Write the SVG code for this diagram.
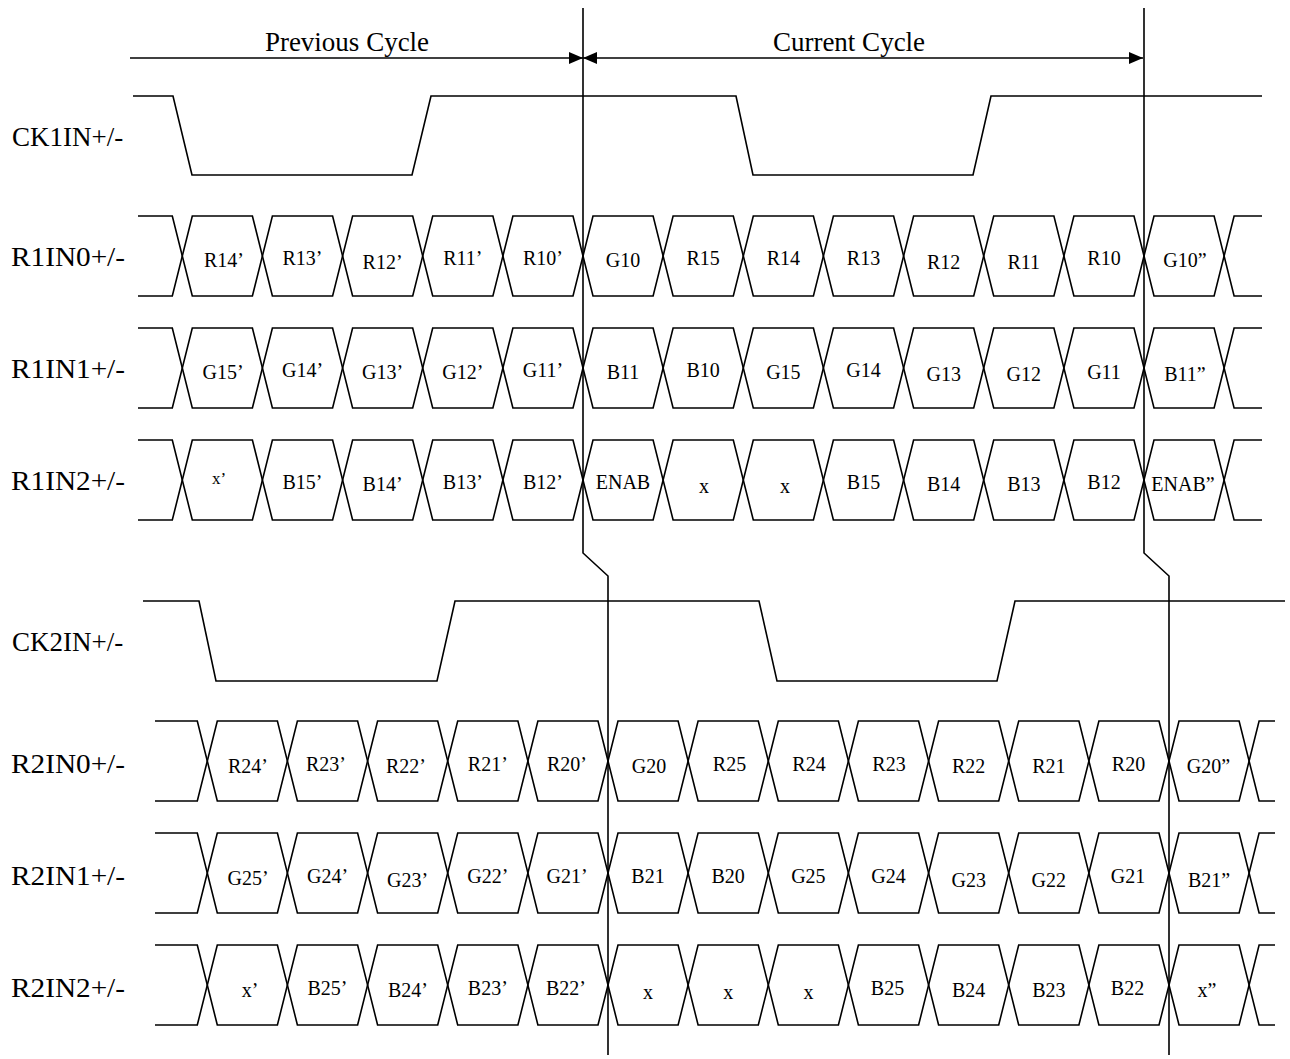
<svg xmlns="http://www.w3.org/2000/svg" xmlns:xlink="http://www.w3.org/1999/xlink" width="1290" height="1059" viewBox="0 0 1290 1059">
<style>
.w{fill:none;stroke:#000;stroke-width:1.6;stroke-linejoin:miter}
.lbl{font-family:"Liberation Serif","Times New Roman",serif;font-size:27px;fill:#000}
.rl{font-family:"Liberation Serif","Times New Roman",serif;font-size:28px;fill:#000}
.hd{font-family:"Liberation Serif","Times New Roman",serif;font-size:27px;fill:#000;text-anchor:middle}
.d{font-family:"Liberation Serif","Times New Roman",serif;font-size:20px;fill:#000;text-anchor:middle}
</style>
<defs>
<marker id="ah" markerUnits="userSpaceOnUse" markerWidth="14" markerHeight="12" refX="14" refY="6" orient="auto-start-reverse">
<path d="M0,0 L14,6 L0,12 Z" fill="#000"/>
</marker>
<g id="bus1">
<polyline class="w" points="138,0 172.3,0 192.3,80 252.4,80 272.4,0 332.6,0 352.6,80 412.7,80 432.7,0 492.9,0 512.9,80 573,80 593,0 653.1,0 673.1,80 733.3,80 753.3,0 813.4,0 833.4,80 893.6,80 913.6,0 973.7,0 993.7,80 1053.9,80 1073.9,0 1134,0 1154,80 1214.1,80 1234.1,0 1262,0"/>
<polyline class="w" points="138,80 172.3,80 192.3,0 252.4,0 272.4,80 332.6,80 352.6,0 412.7,0 432.7,80 492.9,80 512.9,0 573,0 593,80 653.1,80 673.1,0 733.3,0 753.3,80 813.4,80 833.4,0 893.6,0 913.6,80 973.7,80 993.7,0 1053.9,0 1073.9,80 1134,80 1154,0 1214.1,0 1234.1,80 1262,80"/>
</g>
<g id="bus2">
<polyline class="w" points="155,0 197.3,0 217.3,80 277.4,80 297.4,0 357.6,0 377.6,80 437.7,80 457.7,0 517.9,0 537.9,80 598,80 618,0 678.1,0 698.1,80 758.3,80 778.3,0 838.4,0 858.4,80 918.6,80 938.6,0 998.7,0 1018.7,80 1078.9,80 1098.9,0 1159,0 1179,80 1239.1,80 1259.1,0 1275,0"/>
<polyline class="w" points="155,80 197.3,80 217.3,0 277.4,0 297.4,80 357.6,80 377.6,0 437.7,0 457.7,80 517.9,80 537.9,0 598,0 618,80 678.1,80 698.1,0 758.3,0 778.3,80 838.4,80 858.4,0 918.6,0 938.6,80 998.7,80 1018.7,0 1078.9,0 1098.9,80 1159,80 1179,0 1239.1,0 1259.1,80 1275,80"/>
</g>
</defs>
<rect width="1290" height="1059" fill="#fff"/>

<g id="header">
<text class="hd" x="347" y="51">Previous Cycle</text>
<text class="hd" x="849" y="51">Current Cycle</text>
</g>

<g id="CK1IN">
<text class="lbl" x="12" y="146">CK1IN+/-</text>
<polyline class="w" points="133,96 173,96 192,175 412,175 431,96 736,96 753,175 973,175 991,96 1262,96"/>
</g>

<g id="R1IN0">
<text class="rl" x="11" y="266" textLength="114" lengthAdjust="spacingAndGlyphs">R1IN0+/-</text>
<use xlink:href="#bus1" transform="translate(0,216)"/>
<text class="d" x="224" y="267">R14’</text>
<text class="d" x="302.5" y="265">R13’</text>
<text class="d" x="382.6" y="269">R12’</text>
<text class="d" x="462.8" y="265">R11’</text>
<text class="d" x="542.9" y="265">R10’</text>
<text class="d" x="623" y="267">G10</text>
<text class="d" x="703.2" y="265">R15</text>
<text class="d" x="783.4" y="265">R14</text>
<text class="d" x="863.5" y="265">R13</text>
<text class="d" x="943.7" y="269">R12</text>
<text class="d" x="1023.8" y="269">R11</text>
<text class="d" x="1104" y="265">R10</text>
<text class="d" x="1185" y="267">G10”</text>
</g>

<g id="R1IN1">
<text class="rl" x="11" y="378" textLength="114" lengthAdjust="spacingAndGlyphs">R1IN1+/-</text>
<use xlink:href="#bus1" transform="translate(0,328)"/>
<text class="d" x="223" y="379">G15’</text>
<text class="d" x="302.5" y="377">G14’</text>
<text class="d" x="382.6" y="379">G13’</text>
<text class="d" x="462.8" y="379">G12’</text>
<text class="d" x="542.9" y="377">G11’</text>
<text class="d" x="623" y="379">B11</text>
<text class="d" x="703.2" y="377">B10</text>
<text class="d" x="783.4" y="379">G15</text>
<text class="d" x="863.5" y="377">G14</text>
<text class="d" x="943.7" y="381">G13</text>
<text class="d" x="1023.8" y="381">G12</text>
<text class="d" x="1104" y="379">G11</text>
<text class="d" x="1185" y="381">B11”</text>
</g>

<g id="R1IN2">
<text class="rl" x="11" y="490" textLength="114" lengthAdjust="spacingAndGlyphs">R1IN2+/-</text>
<use xlink:href="#bus1" transform="translate(0,440)"/>
<text class="d" x="219" y="484" style="font-size:17px">x’</text>
<text class="d" x="302.5" y="489">B15’</text>
<text class="d" x="382.6" y="491">B14’</text>
<text class="d" x="462.8" y="489">B13’</text>
<text class="d" x="542.9" y="489">B12’</text>
<text class="d" x="623" y="489">ENAB</text>
<text class="d" x="704" y="493">x</text>
<text class="d" x="785" y="493">x</text>
<text class="d" x="863.5" y="489">B15</text>
<text class="d" x="943.7" y="491">B14</text>
<text class="d" x="1023.8" y="491">B13</text>
<text class="d" x="1104" y="489">B12</text>
<text class="d" x="1183" y="491">ENAB”</text>
</g>

<g id="CK2IN">
<text class="lbl" x="12" y="651">CK2IN+/-</text>
<polyline class="w" points="143,601 199,601 216,681 437,681 455,601 759,601 777,681 997,681 1015,601 1285,601"/>
</g>

<g id="R2IN0">
<text class="rl" x="11" y="773" textLength="114" lengthAdjust="spacingAndGlyphs">R2IN0+/-</text>
<use xlink:href="#bus2" transform="translate(0,721)"/>
<text class="d" x="248" y="773">R24’</text>
<text class="d" x="326" y="771">R23’</text>
<text class="d" x="406" y="773">R22’</text>
<text class="d" x="487.8" y="771">R21’</text>
<text class="d" x="567" y="771">R20’</text>
<text class="d" x="649" y="773">G20</text>
<text class="d" x="729.5" y="771">R25</text>
<text class="d" x="809" y="771">R24</text>
<text class="d" x="889" y="771">R23</text>
<text class="d" x="968.7" y="773">R22</text>
<text class="d" x="1048.8" y="773">R21</text>
<text class="d" x="1128.5" y="771">R20</text>
<text class="d" x="1208.5" y="773">G20”</text>
</g>

<g id="R2IN1">
<text class="rl" x="11" y="885" textLength="114" lengthAdjust="spacingAndGlyphs">R2IN1+/-</text>
<use xlink:href="#bus2" transform="translate(0,833)"/>
<text class="d" x="248" y="885">G25’</text>
<text class="d" x="327.5" y="883">G24’</text>
<text class="d" x="407.6" y="887">G23’</text>
<text class="d" x="487.8" y="883">G22’</text>
<text class="d" x="567" y="883">G21’</text>
<text class="d" x="648" y="883">B21</text>
<text class="d" x="728.2" y="883">B20</text>
<text class="d" x="808.4" y="883">G25</text>
<text class="d" x="888.5" y="883">G24</text>
<text class="d" x="968.7" y="887">G23</text>
<text class="d" x="1048.8" y="887">G22</text>
<text class="d" x="1128" y="883">G21</text>
<text class="d" x="1209" y="887">B21”</text>
</g>

<g id="R2IN2">
<text class="rl" x="11" y="997" textLength="114" lengthAdjust="spacingAndGlyphs">R2IN2+/-</text>
<use xlink:href="#bus2" transform="translate(0,945)"/>
<text class="d" x="250" y="997">x’</text>
<text class="d" x="327.5" y="995">B25’</text>
<text class="d" x="408" y="997">B24’</text>
<text class="d" x="487.8" y="995">B23’</text>
<text class="d" x="566" y="995">B22’</text>
<text class="d" x="648" y="999">x</text>
<text class="d" x="728.2" y="999">x</text>
<text class="d" x="808.4" y="999">x</text>
<text class="d" x="887.5" y="995">B25</text>
<text class="d" x="968.7" y="997">B24</text>
<text class="d" x="1048.8" y="997">B23</text>
<text class="d" x="1127.5" y="995">B22</text>
<text class="d" x="1207" y="997">x”</text>
</g>

<g id="connectors">
<line class="w" x1="130" y1="58" x2="583" y2="58" marker-end="url(#ah)"/>
<line class="w" x1="583" y1="58" x2="1143" y2="58" marker-start="url(#ah)" marker-end="url(#ah)"/>
<polyline class="w" points="583,8 583,553 608,576 608,1055"/>
<polyline class="w" points="1144,8 1144,553 1169,576 1169,1055"/>
</g>
</svg>
